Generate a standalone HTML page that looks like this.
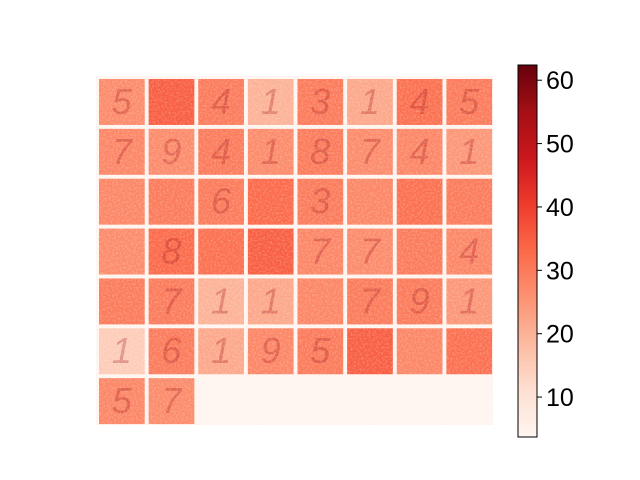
<!DOCTYPE html>
<html><head><meta charset="utf-8"><style>
body{margin:0;background:#fff;}
svg{display:block;font-family:"Liberation Sans",sans-serif;}
</style></head><body>
<svg id="chart" width="640" height="480" viewBox="0 0 640 480">
<defs>
<linearGradient id="cbgrad" x1="0" y1="1" x2="0" y2="0">
<stop offset="0" stop-color="#fff5f0"/><stop offset="0.125" stop-color="#fee0d2"/><stop offset="0.25" stop-color="#fcbba1"/><stop offset="0.375" stop-color="#fc9272"/><stop offset="0.5" stop-color="#fb6a4a"/><stop offset="0.625" stop-color="#ef3b2c"/><stop offset="0.75" stop-color="#cb181d"/><stop offset="0.875" stop-color="#a50f15"/><stop offset="1" stop-color="#67000d"/>
</linearGradient>
<filter id="noise" x="0" y="0" width="100%" height="100%">
<feTurbulence type="fractalNoise" baseFrequency="0.55" numOctaves="1" seed="3"/>
<feColorMatrix type="matrix" values="0 0 0 0 1  0 0 0 0 1  0 0 0 0 1  0 0 0 -2 1.2"/>
</filter>
</defs>
<rect x="96" y="76" width="397" height="349" fill="#fff5f0"/>
<g id="tiles"></g>
<rect x="96" y="76" width="397" height="349" fill="#fff" filter="url(#noise)" opacity="0.3"/>
<g id="cbar"></g>
</svg>
<script>
const tileMeans = [27,35,30,20,30,22,32,30, 28,27,30,27,30,27,28,25, 28,30,30,33,30,28,32,30, 27,33,32,35,28,27,30,28, 30,30,20,22,28,30,30,25, 15,30,22,28,30,35,28,32, 28,27];
const tileDigits = ["5","","4","1","3","1","4","5", "7","9","4","1","8","7","4","1", "","","6","","3","","","", "","8","","","7","7","","4", "","7","1","1","","7","9","1", "1","6","1","9","5","","","", "5","7"];
const cbTicks = [10,20,30,40,50,60];
const vmin = 3.7, vmax = 62.4;
const stops = [[0,[255,245,240]],[0.125,[254,224,210]],[0.25,[252,187,161]],[0.375,[252,146,114]],[0.5,[251,106,74]],[0.625,[239,59,44]],[0.75,[203,24,29]],[0.875,[165,15,21]],[1,[103,0,13]]];
function cmap(v){let t=Math.max(0,Math.min(1,(v-vmin)/(vmax-vmin)));for(let i=1;i<stops.length;i++){if(t<=stops[i][0]){const a=stops[i-1],b=stops[i];const f=(t-a[0])/(b[0]-a[0]);const c=a[1].map((x,k)=>Math.round(x+(b[1][k]-x)*f));return `rgb(${c})`;}}return 'rgb(103,0,13)';}
const NS='http://www.w3.org/2000/svg';
const x0=96,y0=76,cw=397/8,ch=349/7,gap=3;
const tg=document.getElementById('tiles');
tileMeans.forEach((m,i)=>{
  const c=i%8,r=Math.floor(i/8);
  const rect=document.createElementNS(NS,'rect');
  rect.setAttribute('x',x0+c*cw+gap);rect.setAttribute('y',y0+r*ch+gap);
  rect.setAttribute('width',cw-gap*1.3);rect.setAttribute('height',ch-gap*1.3);
  rect.setAttribute('fill',cmap(m));
  
  
  tg.appendChild(rect);
  if(tileDigits[i]){
    const t=document.createElementNS(NS,'text');
    t.setAttribute('x',x0+c*cw+cw/2+1);t.setAttribute('y',y0+r*ch+ch/2+13);
    t.setAttribute('text-anchor','middle');t.setAttribute('font-size','36');
    t.setAttribute('fill','#a50f15');t.setAttribute('opacity','0.3');
    t.setAttribute('font-style','italic');
    t.textContent=tileDigits[i];
    
    
    tg.appendChild(t);
  }
});
const cb=document.getElementById('cbar');
const cbx=518,cby=65,cbw=19,cbh=372;
const cy=v=>cby+cbh-(v-vmin)/(vmax-vmin)*cbh;
const bar=document.createElementNS(NS,'rect');
bar.setAttribute('x',cbx);bar.setAttribute('y',cby);bar.setAttribute('width',cbw);bar.setAttribute('height',cbh);
bar.setAttribute('fill','url(#cbgrad)');bar.setAttribute('stroke','#000');bar.setAttribute('stroke-width','1');


cb.appendChild(bar);
cbTicks.forEach(v=>{
  const y=cy(v);
  const l=document.createElementNS(NS,'line');
  l.setAttribute('x1',cbx+cbw);l.setAttribute('x2',cbx+cbw+5);l.setAttribute('y1',y);l.setAttribute('y2',y);l.setAttribute('stroke','#000');
  
  
  cb.appendChild(l);
  const t=document.createElementNS(NS,'text');
  t.setAttribute('x',cbx+cbw+9);t.setAttribute('y',y+9);t.setAttribute('font-size','25');t.setAttribute('fill','#000');
  t.textContent=v;
  
  
  cb.appendChild(t);
});
</script>
</body></html>
